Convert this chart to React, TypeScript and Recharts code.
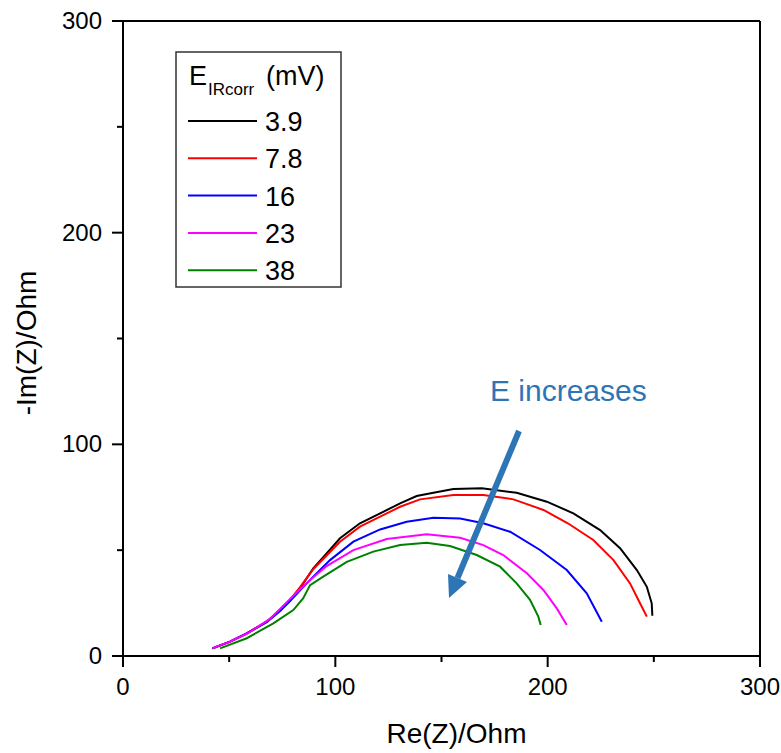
import { LineChart, Line, XAxis, YAxis, ReferenceLine } from 'recharts'

// Nyquist curves, [Re(Z), -Im(Z)] in Ohm
const curve3_9 = [
  [42.1, 3.6], [50.4, 6.8], [58.3, 10.7], [67.7, 16.2], [74.0, 21.7], [78.7, 26.5], [83.4, 32.0],
  [89.6, 41.4], [95.9, 48.5], [102.2, 55.6], [111.6, 62.7], [121.1, 67.4], [130.5, 72.1],
  [138.3, 75.6], [146.2, 77.1], [155.6, 78.9], [169.0, 79.3], [185.4, 77.1], [199.6, 72.9],
  [212.1, 67.4], [224.7, 59.5], [234.1, 50.9], [242.0, 40.6], [246.7, 32.7], [249.0, 24.9], [249.3, 19.0],
]
const curve7_8 = [
  [42.1, 3.6], [50.4, 6.8], [58.3, 10.7], [67.7, 16.2], [74.0, 21.7], [78.7, 26.5], [83.4, 32.5],
  [89.6, 41.0], [95.9, 47.5], [102.2, 54.0], [111.6, 61.1], [121.1, 65.8], [130.5, 70.5],
  [139.9, 74.0], [155.6, 76.1], [169.7, 76.1], [183.9, 74.0], [198.0, 69.0], [209.5, 62.7],
  [221.5, 54.8], [231.0, 45.3], [238.8, 34.3], [243.5, 24.9], [246.7, 18.6],
]
const curve16 = [
  [42.1, 3.6], [50.4, 6.8], [58.3, 10.7], [67.7, 16.0], [74.0, 21.3], [78.7, 26.0], [83.4, 31.0],
  [89.6, 37.5], [97.5, 45.3], [108.5, 54.0], [121.1, 59.8], [133.6, 63.4], [146.2, 65.3],
  [158.8, 65.0], [169.7, 62.7], [182.3, 58.7], [196.4, 50.1], [209.0, 40.6], [218.4, 29.6], [225.5, 16.2],
]
const curve23 = [
  [42.1, 3.6], [50.4, 6.8], [58.3, 10.5], [69.2, 17.5], [78.7, 27.0], [86.5, 34.5], [95.9, 42.5],
  [108.5, 50.0], [124.2, 55.3], [143.0, 57.5], [158.8, 55.9], [169.7, 52.4], [179.1, 47.7],
  [190.2, 39.1], [198.0, 31.2], [204.3, 22.5], [209.0, 14.6],
]
const curve38 = [
  [45.7, 3.6], [58.3, 8.4], [70.8, 15.4], [80.2, 21.7], [84.9, 27.3], [88.1, 33.5], [94.3, 37.5],
  [105.4, 44.5], [117.9, 49.3], [130.5, 52.4], [143.0, 53.5], [154.0, 52.0], [166.6, 47.7],
  [177.6, 42.2], [185.4, 34.3], [191.7, 26.5], [195.6, 18.6], [196.7, 14.6],
]

const seriesNames = ['3.9', '7.8', '16', '23', '38']
const seriesColors = ['#000000', '#ff0000', '#0000ff', '#ff00ff', '#008000']
const curves = [curve3_9, curve7_8, curve16, curve23, curve38]

const axisTicks = [0, 50, 100, 150, 200, 250, 300]

const W = 781
const H = 753
const FONT = '"Liberation Sans", Arial, sans-serif'
const ANNOT = '#2e75b6'

function XTick({ x, y, payload }: any) {
  const major = payload.value % 100 === 0
  return (
    <g>
      <line x1={x} x2={x} y1={y} y2={y + (major ? 11 : 6)} stroke="#000" strokeWidth={2} />
      {major && (
        <text x={x} y={y + 39} textAnchor="middle" fontSize={24} fontFamily={FONT} fill="#000">
          {payload.value}
        </text>
      )}
    </g>
  )
}

function YTick({ x, y, payload }: any) {
  const major = payload.value % 100 === 0
  return (
    <g>
      <line x1={x} x2={x - (major ? 11 : 6)} y1={y} y2={y} stroke="#000" strokeWidth={2} />
      {major && (
        <text x={x - 21} y={y + 8} textAnchor="end" fontSize={24} fontFamily={FONT} fill="#000">
          {payload.value}
        </text>
      )}
    </g>
  )
}

const XTitle = ({ viewBox }: any) => (
  <text x={viewBox.x + viewBox.width / 2 + 15} y={viewBox.y + 87} textAnchor="middle"
    fontSize={28} fontFamily={FONT} fill="#000">
    Re(Z)/Ohm
  </text>
)

const YTitle = () => (
  <text x={36} y={343} transform="rotate(-90, 36, 343)" textAnchor="middle"
    fontSize={28} fontFamily={FONT} fill="#000">
    -Im(Z)/Ohm
  </text>
)

function LegendBox() {
  return (
    <g>
      <rect x={176} y={52} width={165} height={235} fill="#fff" stroke="#333" strokeWidth={1.5} />
      <text x={189} y={85} fontSize={27} fontFamily={FONT} fill="#000">E</text>
      <text x={208} y={95} fontSize={17} fontFamily={FONT} fill="#000">IRcorr</text>
      <text x={266} y={85} fontSize={27} fontFamily={FONT} fill="#000">(mV)</text>
      {seriesNames.map((name, i) => {
        const ly = 121 + i * 37.3
        return (
          <g key={name}>
            <line x1={188} x2={257} y1={ly} y2={ly} stroke={seriesColors[i]} strokeWidth={2} />
            <text x={265} y={ly + 10} fontSize={27} fontFamily={FONT} fill="#000">{name}</text>
          </g>
        )
      })}
    </g>
  )
}

function Annotation() {
  return (
    <g>
      <text x={490} y={401} fontSize={30} fontFamily={FONT} fill={ANNOT}>E increases</text>
      <line x1={519} y1={431} x2={457.5} y2={578} stroke={ANNOT} strokeWidth={6} />
      <polygon points="449,598 467,582 448,574" fill={ANNOT} />
    </g>
  )
}

export default function App() {
  return (
    <div style={{ position: 'absolute', left: 0, top: 0, width: W, height: H, background: '#fff' }}>
      <LineChart width={W} height={H} margin={{ top: 21, right: 21, bottom: 0, left: 0 }}>
        <XAxis
          type="number"
          dataKey="re"
          domain={[0, 300]}
          ticks={axisTicks}
          interval={0}
          height={97}
          tickSize={0}
          tickMargin={0}
          tickLine={false}
          tick={<XTick />}
          axisLine={{ stroke: '#000', strokeWidth: 2 }}
          label={<XTitle />}
          allowDataOverflow
        />
        <YAxis
          type="number"
          dataKey="im"
          domain={[0, 300]}
          ticks={axisTicks}
          interval={0}
          width={123}
          tickSize={0}
          tickMargin={0}
          tickLine={false}
          tick={<YTick />}
          axisLine={{ stroke: '#000', strokeWidth: 2 }}
          label={<YTitle />}
          allowDataOverflow
        />
        <ReferenceLine y={300} stroke="#000" strokeWidth={2} />
        <ReferenceLine x={300} stroke="#000" strokeWidth={2} />
        {curves.map((c, i) => (
          <Line
            key={seriesNames[i]}
            data={c.map(([re, im]) => ({ re, im }))}
            dataKey="im"
            type="linear"
            stroke={seriesColors[i]}
            strokeWidth={2}
            dot={false}
            isAnimationActive={false}
          />
        ))}
      </LineChart>
      <svg width={W} height={H} style={{ position: 'absolute', left: 0, top: 0, pointerEvents: 'none' }}>
        <LegendBox />
        <Annotation />
      </svg>
    </div>
  )
}
